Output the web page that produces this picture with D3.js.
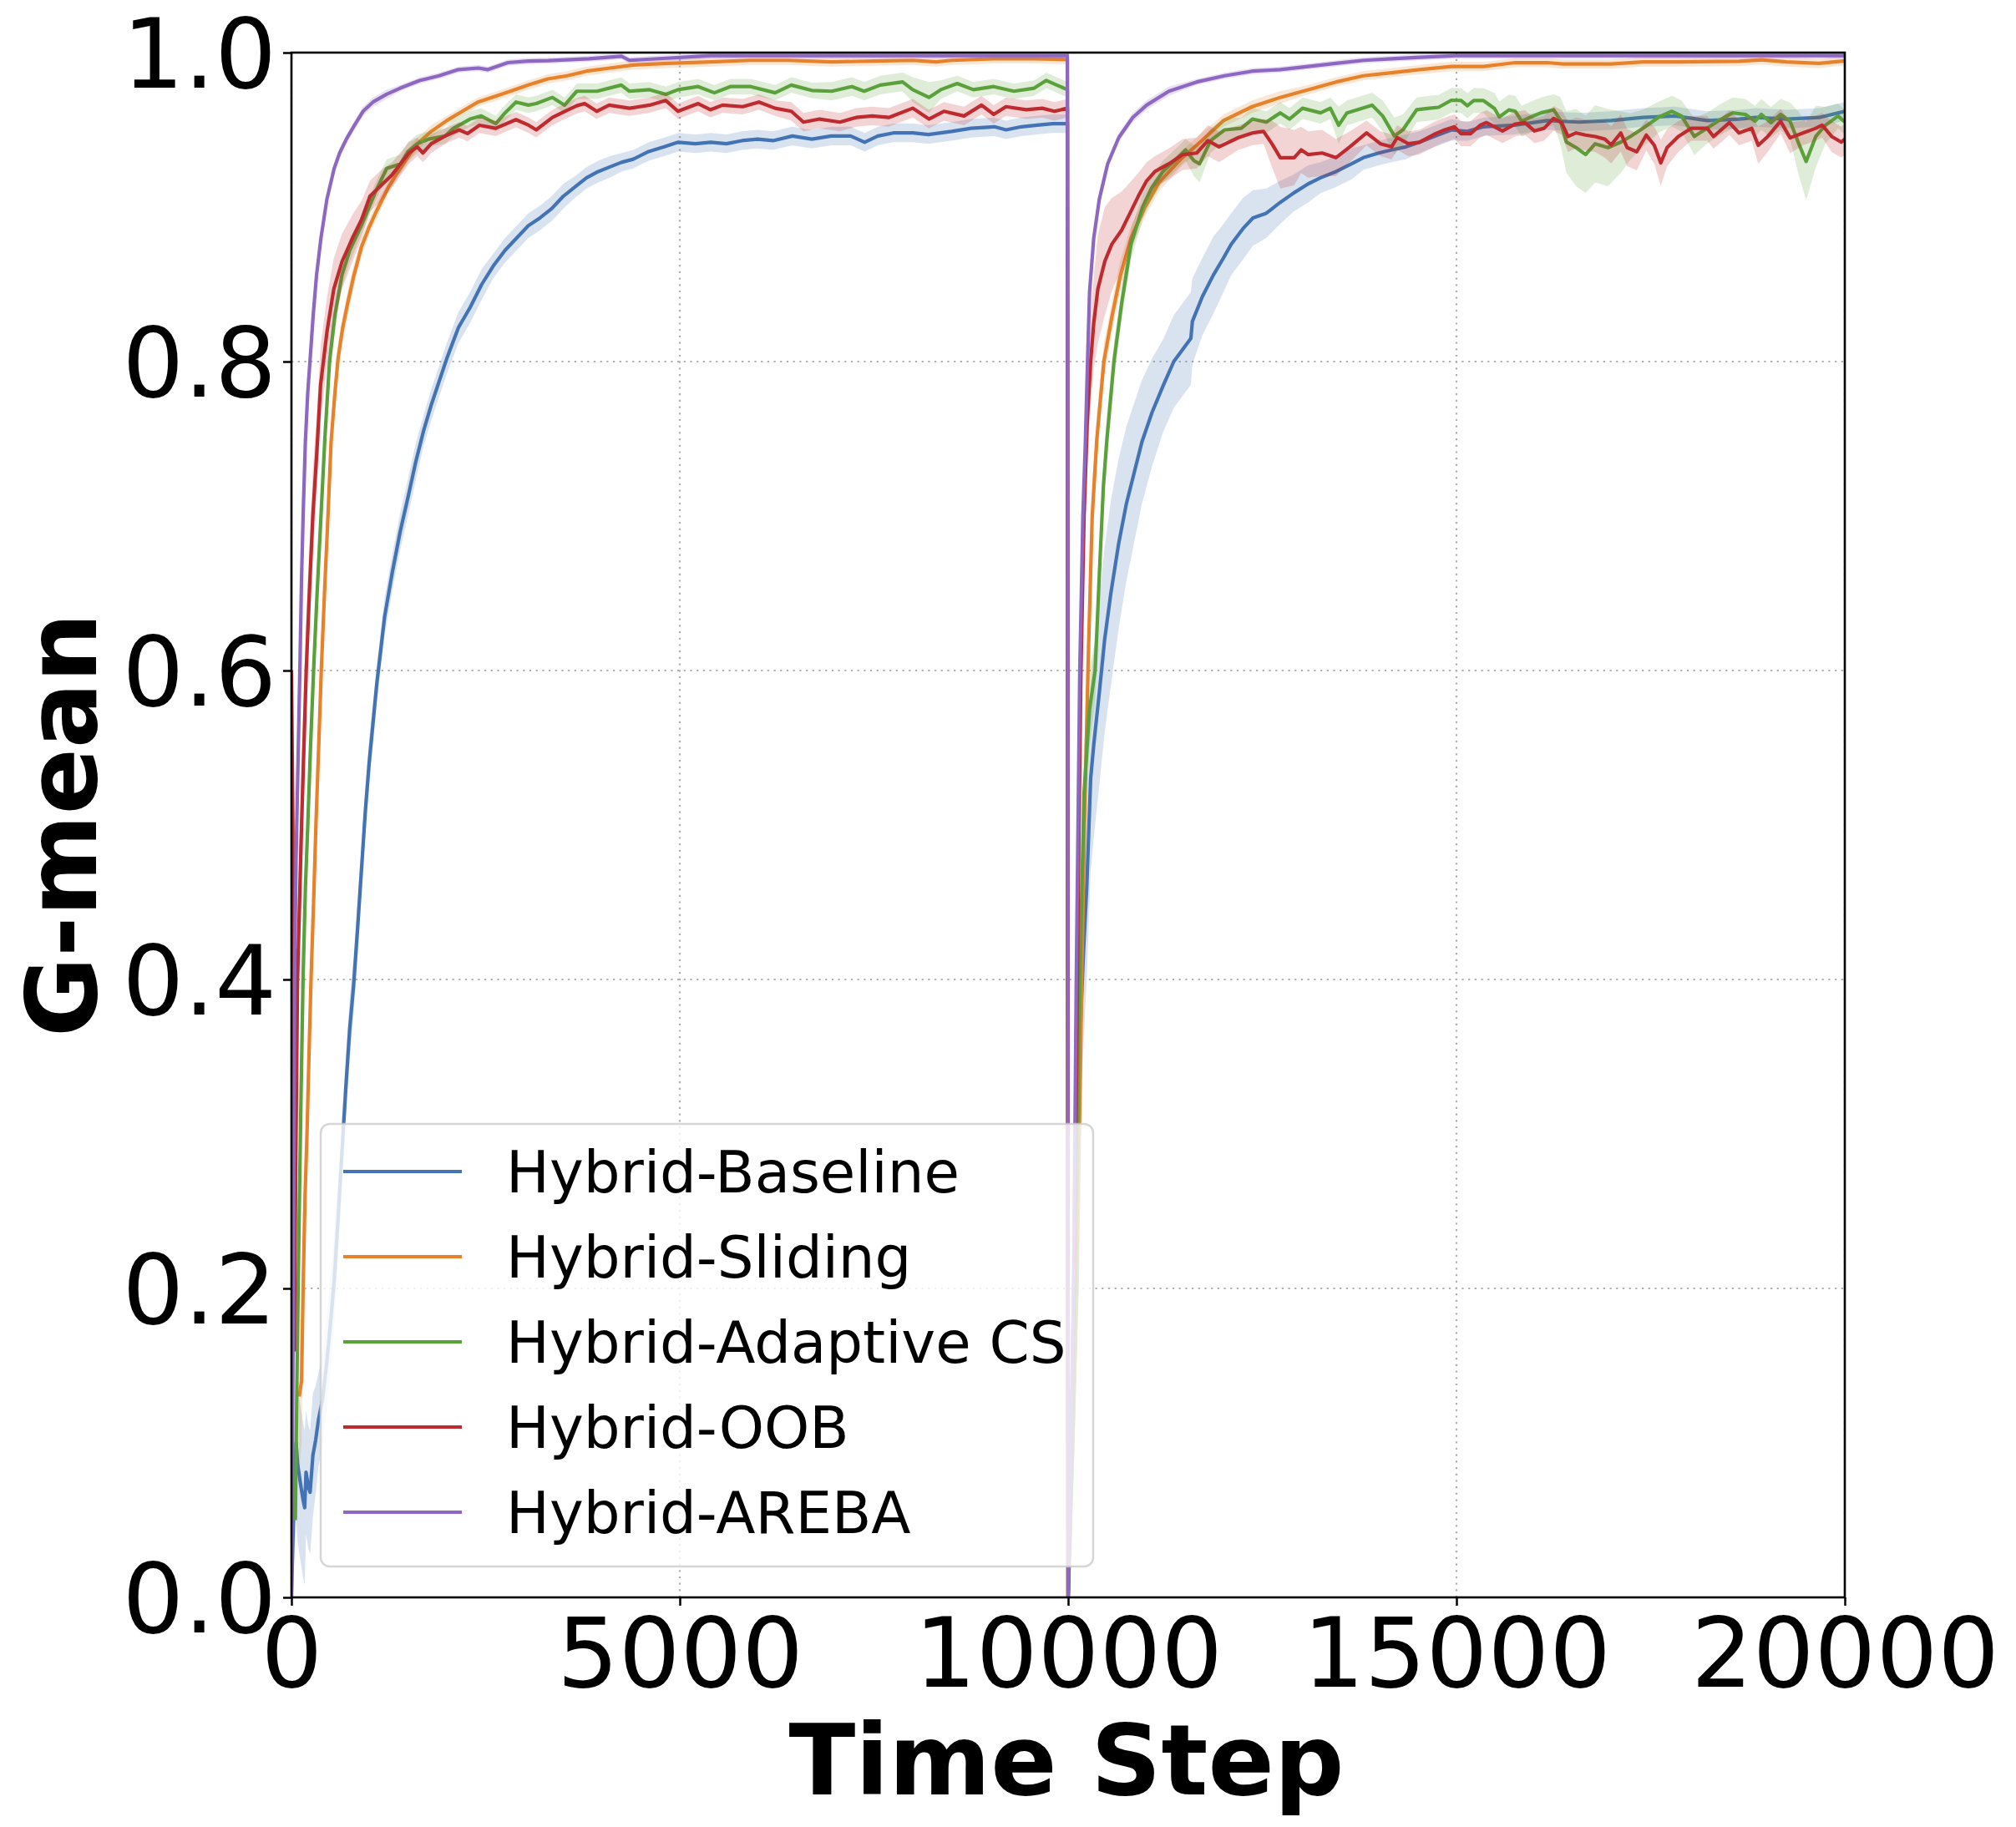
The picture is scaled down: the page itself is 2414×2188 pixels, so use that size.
<!DOCTYPE html>
<html>
<head>
<meta charset="utf-8">
<script src="https://cdn.jsdelivr.net/npm/d3@7"></script>
<style>
  html, body { margin: 0; padding: 0; background: #ffffff; }
  svg { display: block; }
</style>
</head>
<body>
<svg id="chart" width="2414" height="2188"></svg>
<script>
// ---------------- DATA ----------------
const seriesNames = ["Hybrid-Baseline", "Hybrid-Sliding", "Hybrid-Adaptive CS", "Hybrid-OOB", "Hybrid-AREBA"];
const seriesColors = ["#4373b4", "#e8822a", "#5ba13b", "#bf2a2f", "#8d67c1"];
const timeTicks = [0, 5000, 10000, 15000, 20000];
const gmeanTicks = [0.0, 0.2, 0.4, 0.6, 0.8, 1.0];

// each entry: [time step, mean G-mean, half-width of shaded band]
const hybridBaseline = [
  [0,0.000,0.000],[30,0.060,0.040],[60,0.100,0.050],[80,0.086,0.050],[115,0.074,0.050],[150,0.063,0.050],
  [170,0.058,0.050],[188,0.081,0.040],[215,0.072,0.040],[240,0.068,0.040],[276,0.092,0.040],[312,0.102,0.035],
  [348,0.115,0.030],[400,0.128,0.030],[450,0.150,0.030],[500,0.176,0.030],[550,0.205,0.030],[600,0.245,0.025],
  [650,0.288,0.020],[700,0.330,0.020],[750,0.368,0.020],[800,0.396,0.018],[850,0.432,0.018],[900,0.470,0.015],
  [950,0.508,0.015],[1000,0.540,0.015],[1100,0.592,0.012],[1200,0.635,0.012],[1300,0.664,0.012],[1400,0.690,0.012],
  [1500,0.712,0.012],[1600,0.735,0.012],[1700,0.755,0.010],[1800,0.772,0.010],[1900,0.787,0.010],[2000,0.802,0.010],
  [2150,0.822,0.010],[2300,0.835,0.010],[2450,0.850,0.010],[2600,0.862,0.008],[2750,0.872,0.008],[2900,0.880,0.008],
  [3050,0.888,0.008],[3200,0.893,0.008],[3350,0.899,0.008],[3500,0.907,0.008],[3650,0.913,0.007],[3800,0.919,0.007],
  [3950,0.923,0.007],[4100,0.926,0.007],[4250,0.929,0.006],[4400,0.931,0.006],[4600,0.936,0.006],[4800,0.939,0.006],
  [4980,0.942,0.006],[5200,0.941,0.006],[5400,0.942,0.006],[5600,0.941,0.006],[5800,0.943,0.006],[6000,0.944,0.006],
  [6200,0.943,0.006],[6450,0.946,0.006],[6700,0.944,0.006],[6950,0.946,0.006],[7200,0.946,0.006],[7380,0.942,0.006],
  [7550,0.946,0.006],[7750,0.948,0.006],[8000,0.948,0.006],[8200,0.947,0.006],[8500,0.949,0.006],[8750,0.951,0.006],
  [9050,0.952,0.006],[9200,0.950,0.006],[9400,0.952,0.006],[9600,0.953,0.006],[9800,0.954,0.006],[9990,0.954,0.006],
  [10000,0.000,0.000],[10050,0.140,0.050],[10100,0.280,0.060],[10150,0.360,0.060],[10200,0.420,0.060],[10240,0.460,0.060],
  [10290,0.530,0.060],[10330,0.552,0.060],[10400,0.585,0.060],[10470,0.620,0.060],[10550,0.650,0.060],[10650,0.682,0.055],
  [10750,0.708,0.050],[10850,0.728,0.045],[10950,0.748,0.040],[11080,0.767,0.035],[11220,0.784,0.030],[11360,0.800,0.030],
  [11580,0.815,0.030],[11600,0.826,0.028],[11728,0.842,0.025],[11870,0.856,0.025],[12000,0.867,0.022],[12100,0.876,0.020],
  [12250,0.886,0.020],[12380,0.893,0.018],[12550,0.896,0.016],[12730,0.903,0.014],[12900,0.909,0.012],[13090,0.915,0.012],
  [13250,0.919,0.010],[13450,0.923,0.010],[13650,0.928,0.010],[13800,0.932,0.008],[14000,0.935,0.008],[14165,0.937,0.008],
  [14350,0.939,0.008],[14523,0.942,0.007],[14730,0.946,0.007],[14935,0.950,0.007],[15140,0.949,0.006],[15350,0.952,0.006],
  [15750,0.953,0.006],[16170,0.956,0.006],[16580,0.955,0.006],[16990,0.956,0.006],[17400,0.958,0.006],[17815,0.959,0.006],
  [18230,0.956,0.006],[18640,0.957,0.006],[18850,0.958,0.006],[19255,0.957,0.006],[19670,0.958,0.006],[20000,0.962,0.006]
];

const hybridSliding = [
  [100,0.130,0.050],[130,0.140,0.040],[150,0.200,0.030],[175,0.260,0.030],[200,0.300,0.030],[225,0.350,0.025],
  [252,0.400,0.020],[285,0.450,0.020],[315,0.500,0.020],[350,0.550,0.020],[384,0.600,0.015],[425,0.650,0.015],
  [470,0.700,0.012],[510,0.748,0.012],[560,0.780,0.010],[600,0.802,0.010],[660,0.822,0.008],[725,0.838,0.008],
  [800,0.855,0.007],[900,0.874,0.006],[1000,0.887,0.005],[1100,0.898,0.005],[1250,0.913,0.004],[1400,0.925,0.004],
  [1600,0.940,0.004],[1800,0.949,0.004],[2000,0.956,0.003],[2200,0.962,0.003],[2400,0.968,0.003],[2700,0.973,0.003],
  [3050,0.979,0.003],[3300,0.983,0.003],[3550,0.985,0.003],[3800,0.988,0.003],[4100,0.990,0.003],[4400,0.992,0.003],
  [4850,0.993,0.003],[5400,0.994,0.003],[5900,0.995,0.003],[6400,0.995,0.003],[6950,0.994,0.003],[7500,0.9945,0.003],
  [8000,0.995,0.003],[8300,0.994,0.003],[8500,0.995,0.003],[9050,0.996,0.003],[9550,0.996,0.003],[9990,0.9955,0.003],
  [10000,0.000,0.000],[10060,0.100,0.030],[10115,0.200,0.030],[10145,0.300,0.030],[10175,0.400,0.030],[10210,0.500,0.025],
  [10255,0.600,0.020],[10310,0.700,0.020],[10370,0.750,0.015],[10460,0.800,0.012],[10560,0.828,0.010],[10670,0.855,0.010],
  [10810,0.880,0.008],[10990,0.900,0.006],[11170,0.916,0.006],[11450,0.931,0.005],[11720,0.943,0.005],[12000,0.956,0.004],
  [12370,0.965,0.004],[12730,0.971,0.004],[13090,0.976,0.003],[13450,0.981,0.003],[13800,0.985,0.003],[14165,0.987,0.003],
  [14523,0.989,0.003],[14935,0.991,0.003],[15350,0.991,0.003],[15760,0.9935,0.003],[16170,0.9935,0.003],[16375,0.9926,0.003],
  [16990,0.9926,0.003],[17400,0.994,0.003],[17815,0.994,0.003],[18640,0.9944,0.003],[18926,0.9953,0.003],[19250,0.994,0.003],
  [19670,0.993,0.003],[20000,0.9947,0.003]
];

const hybridAdaptiveCS = [
  [50,0.050,0.020],[75,0.160,0.020],[100,0.250,0.020],[125,0.330,0.020],[149,0.400,0.020],[180,0.460,0.020],
  [210,0.500,0.020],[245,0.550,0.020],[285,0.600,0.020],[330,0.650,0.015],[380,0.700,0.015],[430,0.750,0.012],
  [490,0.800,0.010],[560,0.830,0.010],[650,0.856,0.008],[750,0.872,0.008],[900,0.888,0.006],[1000,0.900,0.006],
  [1083,0.910,0.006],[1226,0.925,0.006],[1405,0.928,0.006],[1500,0.936,0.006],[1620,0.941,0.006],[1763,0.944,0.005],
  [1979,0.946,0.005],[2086,0.951,0.005],[2194,0.954,0.005],[2300,0.957,0.005],[2444,0.959,0.005],[2631,0.954,0.005],
  [2750,0.961,0.005],[2891,0.968,0.005],[3050,0.966,0.005],[3152,0.967,0.005],[3360,0.971,0.005],[3517,0.966,0.005],
  [3673,0.975,0.005],[3934,0.975,0.005],[4247,0.979,0.005],[4351,0.975,0.005],[4611,0.976,0.005],[4820,0.973,0.005],
  [4976,0.976,0.005],[5237,0.978,0.005],[5445,0.974,0.005],[5650,0.978,0.005],[5914,0.978,0.005],[6227,0.974,0.005],
  [6436,0.979,0.005],[6700,0.9755,0.005],[6957,0.975,0.006],[7217,0.978,0.006],[7374,0.975,0.006],[7582,0.979,0.006],
  [7869,0.981,0.006],[7999,0.976,0.008],[8208,0.971,0.010],[8360,0.976,0.006],[8572,0.980,0.005],[8780,0.976,0.005],
  [9042,0.978,0.005],[9302,0.975,0.005],[9563,0.977,0.005],[9719,0.982,0.005],[9990,0.976,0.005],
  [10000,0.000,0.000],[10060,0.100,0.030],[10108,0.200,0.030],[10133,0.350,0.030],[10160,0.420,0.030],[10204,0.520,0.030],
  [10276,0.575,0.025],[10348,0.600,0.020],[10400,0.660,0.020],[10455,0.720,0.015],[10500,0.750,0.015],[10590,0.800,0.012],
  [10690,0.838,0.010],[10810,0.876,0.010],[10960,0.900,0.008],[11070,0.912,0.008],[11220,0.923,0.007],[11370,0.930,0.007],
  [11512,0.937,0.007],[11620,0.930,0.010],[11692,0.928,0.012],[11835,0.943,0.008],[12014,0.950,0.007],[12229,0.951,0.007],
  [12373,0.957,0.007],[12552,0.955,0.007],[12731,0.961,0.007],[12850,0.957,0.007],[13018,0.964,0.007],[13250,0.961,0.007],
  [13376,0.964,0.007],[13484,0.953,0.012],[13591,0.961,0.008],[13914,0.966,0.008],[14050,0.959,0.010],[14201,0.946,0.012],
  [14310,0.950,0.010],[14487,0.963,0.008],[14650,0.964,0.008],[14770,0.9646,0.008],[14935,0.9692,0.008],[15060,0.969,0.008],
  [15140,0.9656,0.008],[15223,0.969,0.008],[15346,0.969,0.008],[15490,0.9638,0.010],[15552,0.9584,0.010],[15675,0.9629,0.010],
  [15758,0.962,0.010],[15840,0.9556,0.010],[15963,0.9584,0.010],[16087,0.961,0.010],[16251,0.963,0.010],[16334,0.9565,0.015],
  [16416,0.9421,0.020],[16540,0.9385,0.025],[16663,0.934,0.025],[16786,0.941,0.025],[16951,0.9385,0.025],[17115,0.942,0.020],
  [17239,0.9457,0.015],[17403,0.9511,0.012],[17609,0.9584,0.010],[17774,0.962,0.010],[17897,0.959,0.010],[18062,0.9457,0.012],
  [18227,0.9511,0.010],[18392,0.9565,0.010],[18556,0.961,0.010],[18720,0.960,0.010],[18844,0.9556,0.010],[18926,0.960,0.010],
  [19049,0.9547,0.010],[19173,0.960,0.010],[19296,0.9556,0.012],[19399,0.9421,0.020],[19502,0.9295,0.025],[19626,0.9457,0.020],
  [19749,0.9529,0.012],[19914,0.959,0.008],[20000,0.955,0.008]
];

const hybridOOB = [
  [0,0.600,0.000],[18,0.500,0.020],[36,0.160,0.030],[55,0.280,0.040],[78,0.400,0.040],[130,0.500,0.040],
  [190,0.600,0.035],[230,0.650,0.030],[275,0.700,0.030],[325,0.740,0.025],[375,0.785,0.025],[459,0.820,0.022],
  [545,0.847,0.020],[653,0.865,0.018],[796,0.881,0.015],[903,0.892,0.012],[1011,0.907,0.010],[1154,0.914,0.010],
  [1297,0.921,0.008],[1512,0.935,0.007],[1620,0.939,0.006],[1692,0.935,0.006],[1799,0.941,0.006],[1979,0.946,0.005],
  [2158,0.950,0.005],[2266,0.9476,0.005],[2420,0.953,0.005],[2630,0.951,0.005],[2891,0.9566,0.005],[3054,0.953,0.005],
  [3152,0.950,0.005],[3360,0.958,0.005],[3520,0.962,0.005],[3673,0.9656,0.005],[3775,0.967,0.005],[3930,0.962,0.005],
  [4090,0.966,0.005],[4351,0.964,0.005],[4611,0.966,0.005],[4820,0.969,0.005],[4976,0.962,0.005],[5237,0.967,0.005],
  [5393,0.963,0.005],[5550,0.966,0.005],[5810,0.965,0.005],[6019,0.968,0.005],[6227,0.964,0.005],[6436,0.962,0.006],
  [6592,0.955,0.006],[6800,0.957,0.006],[7061,0.955,0.006],[7270,0.958,0.006],[7478,0.959,0.006],[7690,0.958,0.006],
  [7999,0.964,0.006],[8208,0.957,0.006],[8400,0.962,0.006],[8660,0.959,0.006],[8885,0.966,0.006],[9042,0.960,0.006],
  [9200,0.965,0.006],[9460,0.963,0.006],[9667,0.964,0.006],[9823,0.962,0.006],[9990,0.964,0.006],
  [10000,0.000,0.000],[10040,0.100,0.030],[10080,0.200,0.030],[10100,0.300,0.030],[10120,0.400,0.030],[10140,0.500,0.030],
  [10165,0.600,0.030],[10205,0.700,0.030],[10245,0.760,0.030],[10290,0.800,0.030],[10330,0.825,0.030],[10383,0.847,0.035],
  [10473,0.865,0.035],[10563,0.876,0.030],[10688,0.885,0.025],[10796,0.896,0.020],[10903,0.907,0.015],[11011,0.917,0.012],
  [11118,0.923,0.010],[11297,0.928,0.010],[11477,0.934,0.010],[11656,0.935,0.010],[11799,0.943,0.010],[11943,0.939,0.010],
  [12193,0.945,0.008],[12373,0.948,0.008],[12516,0.949,0.008],[12624,0.941,0.015],[12731,0.932,0.020],[12910,0.932,0.018],
  [13000,0.937,0.015],[13089,0.934,0.015],[13270,0.935,0.015],[13448,0.932,0.012],[13627,0.939,0.010],[13842,0.948,0.008],
  [14021,0.941,0.008],[14165,0.939,0.008],[14237,0.945,0.008],[14380,0.941,0.008],[14523,0.942,0.008],[14729,0.9475,0.008],
  [14850,0.950,0.008],[14976,0.952,0.008],[15058,0.9475,0.008],[15181,0.9475,0.008],[15305,0.953,0.008],[15387,0.9547,0.008],
  [15593,0.9493,0.008],[15758,0.9538,0.008],[15881,0.9547,0.008],[16004,0.9493,0.008],[16128,0.951,0.008],[16251,0.9574,0.008],
  [16354,0.9547,0.008],[16437,0.9457,0.010],[16540,0.948,0.010],[16663,0.9466,0.010],[16786,0.9457,0.010],[16910,0.944,0.012],
  [16992,0.9403,0.012],[17115,0.948,0.012],[17198,0.9385,0.012],[17321,0.9358,0.012],[17444,0.9466,0.010],[17547,0.940,0.012],
  [17630,0.9286,0.015],[17712,0.9385,0.012],[17856,0.9457,0.010],[18021,0.951,0.008],[18227,0.951,0.008],[18310,0.9457,0.008],
  [18514,0.9547,0.008],[18638,0.948,0.008],[18802,0.951,0.008],[18885,0.940,0.012],[19008,0.9457,0.010],[19173,0.9556,0.008],
  [19296,0.9448,0.010],[19461,0.948,0.008],[19626,0.951,0.008],[19708,0.953,0.008],[19831,0.9457,0.010],[19955,0.942,0.010],
  [20000,0.944,0.010]
];

const hybridAREBA = [
  [0,0.000,0.000],[12,0.100,0.010],[25,0.200,0.010],[40,0.400,0.010],[60,0.480,0.010],[80,0.530,0.010],
  [108,0.600,0.008],[130,0.660,0.008],[150,0.700,0.006],[179,0.748,0.006],[210,0.780,0.005],[241,0.802,0.005],
  [280,0.830,0.004],[323,0.856,0.004],[380,0.880,0.003],[456,0.905,0.003],[550,0.925,0.003],[620,0.935,0.003],
  [707,0.944,0.003],[800,0.952,0.003],[922,0.962,0.003],[1050,0.968,0.003],[1225,0.973,0.003],[1400,0.977,0.002],
  [1655,0.982,0.002],[1900,0.985,0.002],[2150,0.989,0.002],[2405,0.990,0.002],[2530,0.989,0.002],[2787,0.9935,0.002],
  [3050,0.9945,0.002],[3308,0.9948,0.002],[3830,0.996,0.002],[4250,0.9976,0.002],[4351,0.995,0.002],[4872,0.9965,0.002],
  [5393,0.998,0.002],[6000,0.998,0.002],[7000,0.998,0.002],[8000,0.998,0.002],[9000,0.998,0.002],[9990,0.998,0.002],
  [10000,0.000,0.000],[10040,0.100,0.010],[10070,0.200,0.010],[10105,0.400,0.010],[10150,0.600,0.010],[10190,0.700,0.008],
  [10222,0.748,0.006],[10250,0.800,0.006],[10276,0.845,0.005],[10330,0.880,0.004],[10401,0.905,0.004],[10509,0.928,0.003],
  [10652,0.945,0.003],[10832,0.958,0.003],[11011,0.966,0.003],[11297,0.975,0.003],[11656,0.981,0.002],[12014,0.985,0.002],
  [12373,0.988,0.002],[12731,0.989,0.002],[13089,0.991,0.002],[13448,0.993,0.002],[13806,0.995,0.002],[14165,0.996,0.002],
  [14523,0.997,0.002],[15000,0.998,0.002],[16000,0.998,0.002],[17000,0.998,0.002],[18000,0.998,0.002],[19000,0.998,0.002],
  [20000,0.998,0.002]
];

const seriesData = [hybridBaseline, hybridSliding, hybridAdaptiveCS, hybridOOB, hybridAREBA];

// ---------------- CHART ----------------
const svg = d3.select("#chart");
const FONT = "'DejaVu Sans', 'Liberation Sans', sans-serif";
const plot = { left: 349, right: 2209, top: 63, bottom: 1913 };

const x = d3.scaleLinear().domain([0, 20000]).range([plot.left, plot.right]);
const y = d3.scaleLinear().domain([0, 1]).range([plot.bottom, plot.top]);

svg.append("rect").attr("width", 2414).attr("height", 2188).attr("fill", "#ffffff");

svg.append("defs").append("clipPath").attr("id", "plotClip")
  .append("rect")
  .attr("x", plot.left).attr("y", plot.top)
  .attr("width", plot.right - plot.left).attr("height", plot.bottom - plot.top);

// grid
const grid = svg.append("g");
grid.selectAll("line.gx").data(timeTicks).join("line")
  .attr("x1", d => x(d)).attr("x2", d => x(d))
  .attr("y1", plot.top).attr("y2", plot.bottom)
  .attr("stroke", "#b0b0b0").attr("stroke-width", 2.2).attr("stroke-dasharray", "2.2,5.5");
grid.selectAll("line.gy").data(gmeanTicks).join("line")
  .attr("x1", plot.left).attr("x2", plot.right)
  .attr("y1", d => y(d)).attr("y2", d => y(d))
  .attr("stroke", "#b0b0b0").attr("stroke-width", 2.2).attr("stroke-dasharray", "2.2,5.5");

// series
const marks = svg.append("g").attr("clip-path", "url(#plotClip)");
const area = d3.area()
  .x(d => x(d[0]))
  .y0(d => y(Math.max(0, d[1] - d[2])))
  .y1(d => y(Math.min(1, d[1] + d[2])));
const line = d3.line().x(d => x(d[0])).y(d => y(d[1]));

seriesData.forEach((data, i) => {
  marks.append("path").datum(data)
    .attr("d", area)
    .attr("fill", seriesColors[i]).attr("fill-opacity", 0.2).attr("stroke", "none");
  marks.append("path").datum(data)
    .attr("d", line)
    .attr("fill", "none").attr("stroke", seriesColors[i])
    .attr("stroke-width", 4.2).attr("stroke-linejoin", "round").attr("stroke-linecap", "butt");
});

// axes
const xAxis = d3.axisBottom(x).tickValues(timeTicks).tickSize(10).tickPadding(15).tickFormat(d => String(d));
const yAxis = d3.axisLeft(y).tickValues(gmeanTicks).tickSize(10).tickPadding(8).tickFormat(d3.format(".1f"));

const gx = svg.append("g").attr("transform", `translate(0,${plot.bottom})`).call(xAxis);
const gy = svg.append("g").attr("transform", `translate(${plot.left},0)`).call(yAxis);
[gx, gy].forEach(g => {
  g.select(".domain").remove();
  g.selectAll(".tick line").attr("stroke", "#000").attr("stroke-width", 2.5);
  g.selectAll(".tick text").attr("fill", "#000").style("font-family", FONT).style("font-size", "116px");
});
gx.selectAll(".tick text").attr("dy", "0.71em");
gy.selectAll(".tick text").attr("dy", "0.36em");

// spines
svg.append("rect")
  .attr("x", plot.left).attr("y", plot.top)
  .attr("width", plot.right - plot.left).attr("height", plot.bottom - plot.top)
  .attr("fill", "none").attr("stroke", "#000").attr("stroke-width", 2.6);

// axis labels
svg.append("text")
  .attr("x", (plot.left + plot.right) / 2 - 2).attr("y", 2149)
  .attr("text-anchor", "middle")
  .style("font-family", FONT).style("font-size", "117px").style("font-weight", "bold")
  .text("Time Step");
svg.append("text")
  .attr("transform", `translate(115,${(plot.top + plot.bottom) / 2}) rotate(-90)`)
  .attr("text-anchor", "middle")
  .style("font-family", FONT).style("font-size", "117px").style("font-weight", "bold")
  .text("G-mean");

// legend
const legend = svg.append("g");
legend.append("rect")
  .attr("x", 384).attr("y", 1346).attr("width", 925).attr("height", 530)
  .attr("rx", 11).attr("ry", 11)
  .attr("fill", "#ffffff").attr("fill-opacity", 0.8)
  .attr("stroke", "#cccccc").attr("stroke-opacity", 0.8).attr("stroke-width", 2.5);
const rowY = d3.scaleLinear().domain([0, 4]).range([1403, 1811]);
seriesNames.forEach((name, i) => {
  legend.append("line")
    .attr("x1", 411).attr("x2", 553)
    .attr("y1", rowY(i)).attr("y2", rowY(i))
    .attr("stroke", seriesColors[i]).attr("stroke-width", 4.2);
  legend.append("text")
    .attr("x", 606).attr("y", rowY(i) + 25)
    .style("font-family", FONT).style("font-size", "69px").attr("fill", "#000")
    .text(name);
});
</script>
</body>
</html>
